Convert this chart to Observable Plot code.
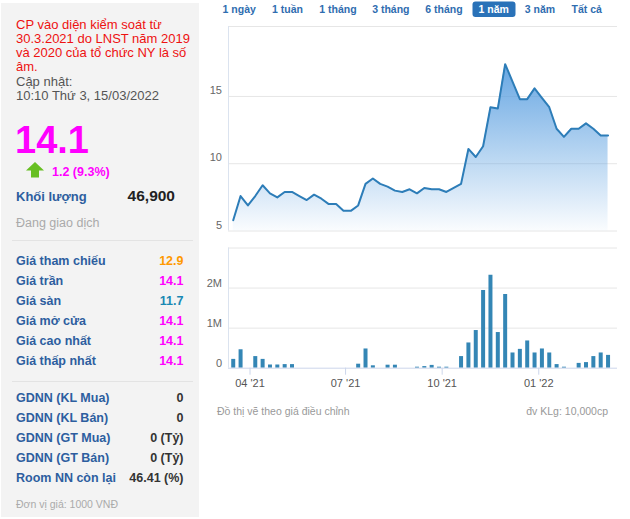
<!DOCTYPE html>
<html>
<head>
<meta charset="utf-8">
<script src="https://cdn.jsdelivr.net/npm/d3@7"></script>
<script src="https://cdn.jsdelivr.net/npm/@observablehq/plot@0.6"></script>
<style>
  html, body { margin: 0; padding: 0; background: #fff; }
  body { width: 630px; height: 519px; position: relative; overflow: hidden; font-family: "Liberation Sans", Arial, sans-serif; }
  .abs { position: absolute; }
</style>
</head>
<body>
<div id="root"></div>
<script>
// ---------------- DATA ----------------
const dates = [
  "2021-03-16","2021-03-23","2021-03-30","2021-04-06","2021-04-13","2021-04-20","2021-04-27",
  "2021-05-04","2021-05-11","2021-05-18","2021-05-25","2021-06-01","2021-06-08","2021-06-15",
  "2021-06-22","2021-06-29","2021-07-06","2021-07-13","2021-07-20","2021-07-27","2021-08-03",
  "2021-08-10","2021-08-17","2021-08-24","2021-08-31","2021-09-07","2021-09-14","2021-09-21",
  "2021-09-28","2021-10-05","2021-10-12","2021-10-19","2021-10-26","2021-11-02","2021-11-09",
  "2021-11-16","2021-11-23","2021-11-30","2021-12-07","2021-12-14","2021-12-21","2021-12-28",
  "2022-01-04","2022-01-11","2022-01-18","2022-01-25","2022-02-01","2022-02-08","2022-02-15",
  "2022-02-22","2022-03-01","2022-03-08"
];
const prices = [
  5.8, 7.6, 6.9, 7.6, 8.4, 7.8, 7.5, 7.9, 7.9, 7.6, 7.3, 7.7, 7.4, 7.0,
  7.0, 6.5, 6.5, 6.9, 8.5, 8.9, 8.5, 8.3, 8.0, 7.9, 8.1, 7.8, 8.2, 8.1,
  8.1, 7.9, 8.2, 8.5, 11.1, 10.5, 11.3, 14.2, 14.1, 17.4, 16.1, 14.8, 14.8, 15.6,
  14.9, 14.2, 12.6, 12.0, 12.6, 12.6, 13.0, 12.6, 12.1, 12.1
];
// volume in millions of shares
const volumes = [
  0.22, 0.46, 0, 0.29, 0.22, 0.08, 0.08, 0.09, 0.09, 0, 0, 0, 0, 0,
  0, 0, 0, 0.10, 0.48, 0.06, 0, 0.075, 0.075, 0, 0, 0.025, 0.04, 0.07,
  0.025, 0.025, 0, 0.29, 0.63, 0.94, 1.94, 2.32, 0.89, 1.84, 0.38, 0.47, 0.68, 0.38,
  0.48, 0.38, 0.09, 0.025, 0, 0.12, 0.14, 0.29, 0.38, 0.32
];
const priceTicks = [5, 10, 15];
const volumeTicks = [0, 1, 2];
const xTickDates = ["2021-04-01", "2021-07-01", "2021-10-01", "2022-01-01"];
const xTickLabels = ["04 '21", "07 '21", "10 '21", "01 '22"];
const tabs = ["1 ngày", "1 tuần", "1 tháng", "3 tháng", "6 tháng", "1 năm", "3 năm", "Tất cả"];
const selectedTab = "1 năm";
const noticeLines = ["CP vào diện kiểm soát từ", "30.3.2021 do LNST năm 2019", "và 2020 của tổ chức NY là số", "âm."];
const updateLines = ["Cập nhật:", "10:10 Thứ 3, 15/03/2022"];
const lastPrice = "14.1";
const change = "1.2 (9.3%)";
const volumeLabel = "Khối lượng";
const volumeValue = "46,900";
const status = "Đang giao dịch";
const priceLabels = ["Giá tham chiếu", "Giá trần", "Giá sàn", "Giá mở cửa", "Giá cao nhất", "Giá thấp nhất"];
const priceValues = ["12.9", "14.1", "11.7", "14.1", "14.1", "14.1"];
const priceKinds = ["ref", "ceil", "floor", "ceil", "ceil", "ceil"];
const foreignLabels = ["GDNN (KL Mua)", "GDNN (KL Bán)", "GDNN (GT Mua)", "GDNN (GT Bán)", "Room NN còn lại"];
const foreignValues = ["0", "0", "0 (Tỷ)", "0 (Tỷ)", "46.41 (%)"];
const unitNote = "Đơn vị giá: 1000 VNĐ";
const chartNoteLeft = "Đồ thị vẽ theo giá điều chỉnh";
const chartNoteRight = "đv KLg: 10,000cp";

// ---------------- LAYOUT / STYLE ----------------
const FONT = '"Liberation Sans", Arial, sans-serif';
const kindColor = {ref: "#ff9900", ceil: "#ff00ff", floor: "#1a88b3"};
const rows = dates.map((d, i) => ({date: new Date(d), price: prices[i], vol: volumes[i]}));
const xDomain = [new Date("2021-03-11T12:00:00Z"), new Date("2022-03-17T00:00:00Z")];
const priceMax = 20.2;
const tickLabelOf = new Map(xTickDates.map((d, i) => [+new Date(d), xTickLabels[i]]));

const root = document.getElementById("root");

// ---- left panel (SVG) ----
const left = d3.create("svg").attr("width", 630).attr("height", 519)
  .attr("class", "abs").style("left", "0px").style("top", "0px")
  .style("font-family", FONT);
left.append("rect").attr("x", 1).attr("y", 3).attr("width", 198).attr("height", 514).attr("fill", "#f3f3f3");

const T = (x, y, txt, size, fill, weight, anchor) =>
  left.append("text").attr("x", x).attr("y", y).attr("font-size", size).attr("fill", fill)
    .attr("font-weight", weight || "normal").attr("text-anchor", anchor || "start").text(txt);

noticeLines.forEach((t, i) => T(16, 28.5 + i * 14.3, t, 13, "#ee1111"));
updateLines.forEach((t, i) => T(16, 85.5 + i * 14.5, t, 13, "#555"));
T(15, 153, lastPrice, 38, "#ff00ff", "bold");
// green up arrow icon
left.append("path").attr("d", "M35,162 L44,170.5 L39,170.5 L39,177.5 L31,177.5 L31,170.5 L26,170.5 Z").attr("fill", "#67bf22");
T(52, 175.5, change, 12.5, "#ff00ff", "bold");
T(16, 200.5, volumeLabel, 13, "#2d5e9f", "bold");
T(175, 200.5, volumeValue, 15.5, "#222", "bold", "end");
T(16, 226.5, status, 12.5, "#aaaaaa");
left.append("line").attr("x1", 12).attr("x2", 193).attr("y1", 240.5).attr("y2", 240.5).attr("stroke", "#e3e3e3");
priceLabels.forEach((t, i) => {
  T(16, 264.5 + i * 20, t, 12.5, "#2d5e9f", "bold");
  T(183.5, 264.5 + i * 20, priceValues[i], 12.5, kindColor[priceKinds[i]], "bold", "end");
});
left.append("line").attr("x1", 12).attr("x2", 193).attr("y1", 381.5).attr("y2", 381.5).attr("stroke", "#e3e3e3");
foreignLabels.forEach((t, i) => {
  T(16, 401.5 + i * 20.2, t, 12.5, "#2d5e9f", "bold");
  T(183.5, 401.5 + i * 20.2, foreignValues[i], 12.5, "#333", "bold", "end");
});
T(16, 507.5, unitNote, 10.5, "#aaaaaa");

// tabs
const tabCenters = [239.2, 287.5, 338, 390.8, 444, 493.7, 540, 586.7];
tabs.forEach((t, i) => {
  const sel = t === selectedTab;
  if (sel) left.append("rect").attr("x", 472.5).attr("y", 1.5).attr("width", 43).attr("height", 15.5)
    .attr("rx", 3).attr("fill", "#2a72b8");
  T(tabCenters[i], 12.8, t, 10.5, sel ? "#fff" : "#2f6db0", "bold", "middle");
});

// footnotes
T(217, 415, chartNoteLeft, 10.5, "#999");
T(608, 415, chartNoteRight, 10.5, "#999", "normal", "end");

root.appendChild(left.node());

// ---- price chart ----
const defs = () => {
  const ns = "http://www.w3.org/2000/svg";
  const d = document.createElementNS(ns, "defs");
  d.innerHTML = `<linearGradient id="priceGrad" x1="0" y1="0" x2="0" y2="1">
      <stop offset="0" stop-color="#5a9fe0" stop-opacity="0.92"/>
      <stop offset="1" stop-color="#5a9fe0" stop-opacity="0.03"/>
    </linearGradient>`;
  return d;
};

const priceChart = Plot.plot({
  width: 430, height: 220,
  marginLeft: 28, marginRight: 13, marginTop: 6, marginBottom: 9.5,
  style: {fontFamily: FONT, fontSize: "11px", background: "transparent", overflow: "visible"},
  x: {type: "utc", domain: xDomain, axis: null},
  y: {domain: [5, priceMax], axis: null, label: null},
  marks: [
    defs,
    Plot.ruleY(priceTicks.concat([priceMax]), {stroke: "#e6e6e6", strokeWidth: 1}),
    Plot.areaY(rows, {x: "date", y1: 5, y2: "price", fill: "url(#priceGrad)"}),
    Plot.lineY(rows, {x: "date", y: "price", stroke: "#2d7db8", strokeWidth: 2}),
    Plot.ruleX([xDomain[0]], {stroke: "#dbe3ef"}),
    Plot.axisY({ticks: priceTicks, tickSize: 0, tickPadding: 6.5, dy: -6, color: "#666", fontSize: 11, label: null})
  ]
});
const pWrap = document.createElement("div");
pWrap.className = "abs"; pWrap.style.left = "200px"; pWrap.style.top = "20px";
pWrap.appendChild(priceChart);
root.appendChild(pWrap);

// ---- volume chart ----
const volChart = Plot.plot({
  width: 430, height: 150,
  marginLeft: 28, marginRight: 13, marginTop: 7.5, marginBottom: 22.3,
  style: {fontFamily: FONT, fontSize: "11px", background: "transparent", overflow: "visible"},
  x: {type: "utc", domain: xDomain, axis: null, label: null},
  y: {domain: [0, 3], axis: null, label: null},
  marks: [
    Plot.ruleY([1, 2, 3], {stroke: "#e6e6e6"}),
    Plot.ruleX(rows.filter(d => d.vol > 0), {x: "date", y1: 0, y2: "vol", stroke: "#3486b5", strokeWidth: 4}),
    Plot.ruleY([0], {stroke: "#ccd6eb"}),
    Plot.ruleX([xDomain[0]], {stroke: "#dbe3ef"}),
    Plot.axisY({ticks: volumeTicks, tickFormat: d => d === 0 ? "0" : d + "M", tickSize: 0, tickPadding: 6.5, dy: -5, color: "#666", fontSize: 11, label: null}),
    Plot.axisX({ticks: xTickDates.map(d => new Date(d)), tickFormat: d => tickLabelOf.get(+d),
      tickSize: 7, tickPadding: 4, stroke: "#ccd6eb", color: "#555", fontSize: 11, label: null})
  ]
});
const vWrap = document.createElement("div");
vWrap.className = "abs"; vWrap.style.left = "200px"; vWrap.style.top = "240px";
vWrap.appendChild(volChart);
root.appendChild(vWrap);
</script>
</body>
</html>
